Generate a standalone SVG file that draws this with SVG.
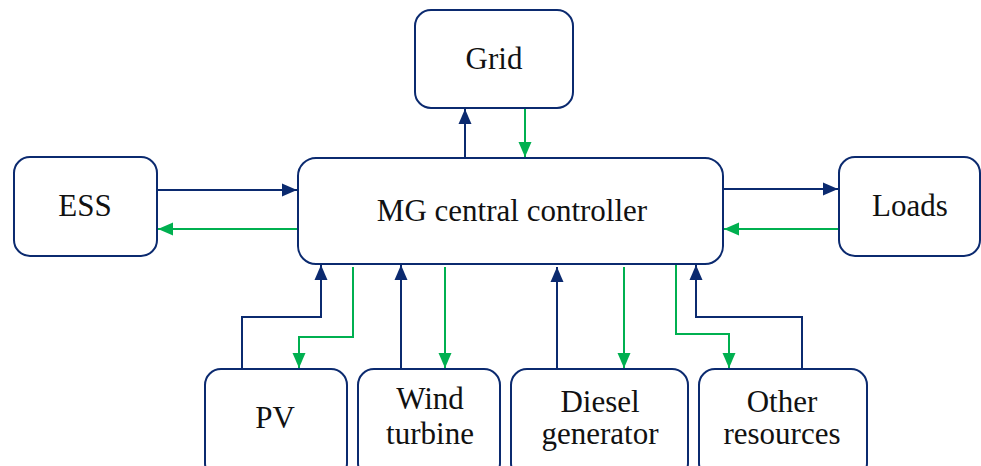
<svg xmlns="http://www.w3.org/2000/svg" width="981" height="466" viewBox="0 0 981 466">
<style>
.box{fill:#fff;stroke:#0b2a6f;stroke-width:2}
.t{font-family:'Liberation Serif','DejaVu Serif','Times New Roman',serif;font-size:31px;fill:#111;text-anchor:middle}
.n{fill:none;stroke:#0b2a6f;stroke-width:2;marker-end:url(#an)}
.g{fill:none;stroke:#00b050;stroke-width:2;marker-end:url(#ag)}
</style>
<defs>
<marker id="an" markerUnits="userSpaceOnUse" markerWidth="16" markerHeight="16" viewBox="0 0 16 16" refX="15" refY="8" orient="auto"><path d="M0,1.5 L15,8 L0,14.5 Z" fill="#0b2a6f"/></marker>
<marker id="ag" markerUnits="userSpaceOnUse" markerWidth="16" markerHeight="16" viewBox="0 0 16 16" refX="15" refY="8" orient="auto"><path d="M0,1.5 L15,8 L0,14.5 Z" fill="#00b050"/></marker>
</defs>
<g id="connectors">
<path class="n" d="M465,158 V109"/>
<path class="g" d="M525,108 V157"/>
<path class="n" d="M157,190 H297"/>
<path class="g" d="M298,229 H158"/>
<path class="n" d="M723,189 H838"/>
<path class="g" d="M839,229 H724"/>
<path class="n" d="M242,369 V317 H321 V265"/>
<path class="g" d="M353,267 V337 H299 V368"/>
<path class="n" d="M401,369 V265"/>
<path class="g" d="M445,267 V368"/>
<path class="n" d="M557,372 V267"/>
<path class="g" d="M624,267 V368"/>
<path class="g" d="M676,264 V334 H729 V368"/>
<path class="n" d="M802,369 V317 H696 V265"/>
</g>
<g id="grid"><rect class="box" x="415" y="10" width="158" height="98" rx="16"/><text class="t" x="494" y="69">Grid</text></g>
<g id="mg"><rect class="box" x="298" y="158" width="425" height="106" rx="18"/><text class="t" x="512" y="221">MG central controller</text></g>
<g id="ess"><rect class="box" x="14" y="157" width="143" height="99" rx="16"/><text class="t" x="85" y="216">ESS</text></g>
<g id="loads"><rect class="box" x="839" y="157" width="141" height="99" rx="16"/><text class="t" x="910" y="216">Loads</text></g>
<g id="pv"><rect class="box" x="205" y="369" width="142" height="110" rx="16"/><text class="t" x="275" y="428">PV</text></g>
<g id="wind"><rect class="box" x="358" y="369" width="142" height="110" rx="16"/><text class="t" x="430" y="409">Wind</text><text class="t" x="430" y="444">turbine</text></g>
<g id="diesel"><rect class="box" x="511" y="369" width="177" height="110" rx="16"/><text class="t" x="600" y="412">Diesel</text><text class="t" x="600" y="444">generator</text></g>
<g id="other"><rect class="box" x="699" y="369" width="168" height="110" rx="16"/><text class="t" x="782" y="412">Other</text><text class="t" x="782" y="444">resources</text></g>
</svg>
